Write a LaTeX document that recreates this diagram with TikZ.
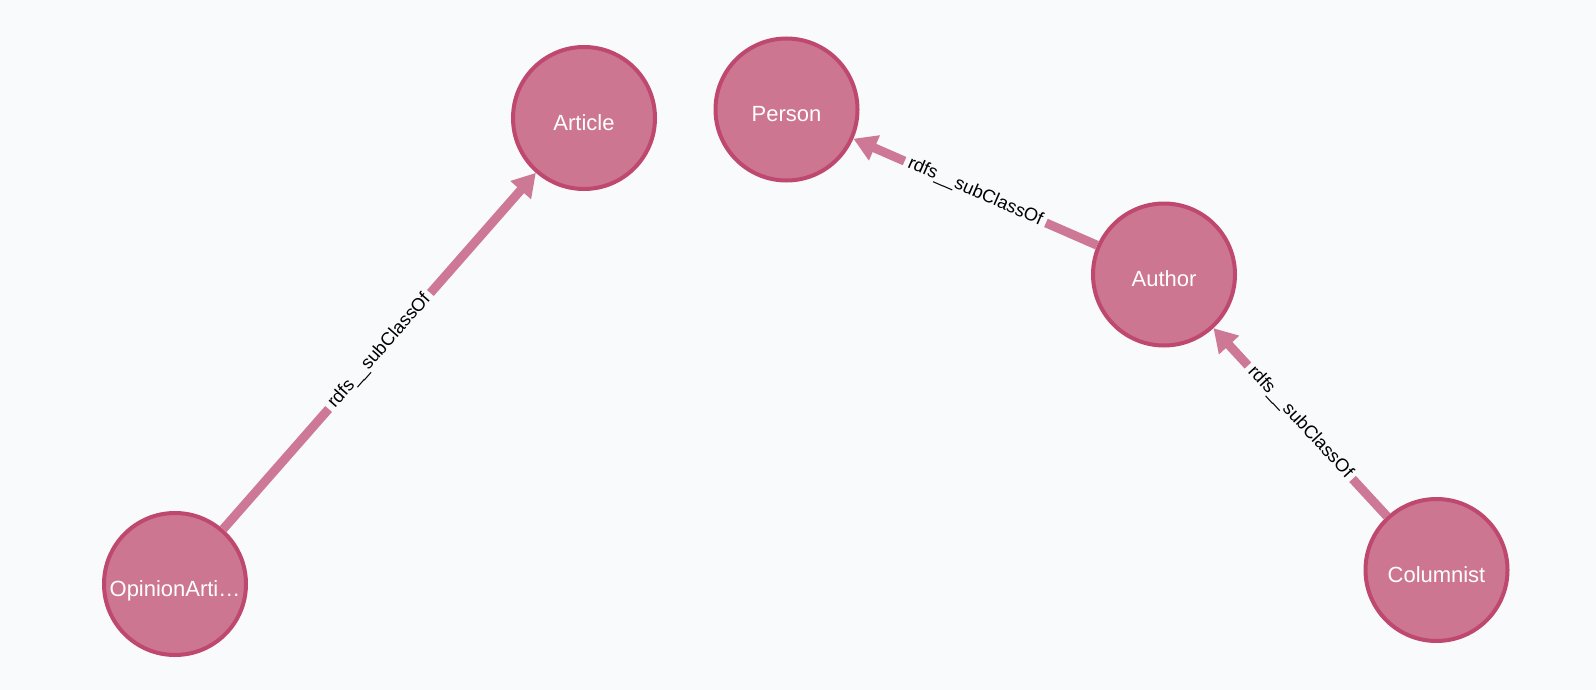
\documentclass[tikz,border=0pt]{standalone}
\usepackage{fontspec}
\setmainfont{Liberation Sans}
\usetikzlibrary{arrows.meta}
\definecolor{bgcol}{RGB}{248,250,252}
\definecolor{nodefill}{RGB}{204,118,146}
\definecolor{nodeline}{RGB}{190,72,110}
\definecolor{relcol}{RGB}{205,121,149}
\begin{document}
\begin{tikzpicture}[class/.style={circle,draw=nodeline,fill=nodefill,line width=0.08cm,minimum size=2.84cm,inner sep=0pt,text=white,text height=14pt,text depth=0pt,font=\fontsize{12.5}{14}\selectfont},
  rel/.style={draw=relcol,line width=0.18cm,-{Triangle[length=0.46cm,width=0.52cm]}},
  lbl/.style={sloped,midway,fill=bgcol,inner sep=2.5pt,text=black,font=\fontsize{10.4}{12}\selectfont}]
\fill[bgcol] (0,0) rectangle (31.92,-13.8);
\useasboundingbox (0,0) rectangle (31.92,-13.8);

\node[class](article) at (11.68, -2.36) {Article};
\node[class](person) at (15.73, -2.19) {Person};
\node[class](author) at (23.28, -5.49) {Author};
\node[class](columnist) at (28.73, -11.40) {Columnist};
\node[class](opinion) at (3.50, -11.68) {OpinionArti…};

\draw[rel] (opinion)--node[lbl]{rdfs\_\_subClassOf}(article);
\draw[rel] (author)--node[lbl]{rdfs\_\_subClassOf}(person);
\draw[rel] (columnist)--node[lbl]{rdfs\_\_subClassOf}(author);
\end{tikzpicture}
\end{document}
